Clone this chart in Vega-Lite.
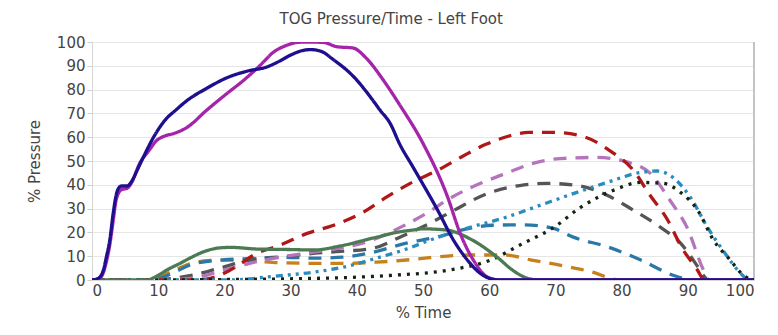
{
  "$schema": "https://vega.github.io/schema/vega-lite/v6.json",
  "autosize": "none",
  "width": 662,
  "height": 238,
  "padding": {"left": 92, "top": 42, "right": 24, "bottom": 55},
  "background": "white",
  "title": {"text": "TOG Pressure/Time - Left Foot", "fontSize": 15, "fontWeight": "normal", "font": "DejaVu Sans", "color": "#444", "anchor": "middle", "frame": "bounds", "offset": 8},
  "config": {
    "view": {"stroke": "#e2e2e2", "strokeWidth": 1},
    "axis": {"labelFont": "DejaVu Sans", "titleFont": "DejaVu Sans", "labelFontSize": 15, "titleFontSize": 15, "titleFontWeight": "normal", "labelColor": "#444", "titleColor": "#444", "gridColor": "#e6e6e6", "domainColor": "#d6d6d6", "tickColor": "#cfcfcf"}
  },
  "data": {"values": [
    {"s":"a","x":0,"y":0},{"s":"a","x":8,"y":0},{"s":"a","x":10,"y":1},{"s":"a","x":12,"y":3.5},{"s":"a","x":15,"y":7},{"s":"a","x":18,"y":8.2},{"s":"a","x":20,"y":8.4},{"s":"a","x":24,"y":8},{"s":"a","x":29,"y":7.2},{"s":"a","x":34,"y":7},{"s":"a","x":38.5,"y":7},{"s":"a","x":43,"y":7.5},{"s":"a","x":47.5,"y":8.4},{"s":"a","x":51,"y":9.4},{"s":"a","x":57.5,"y":10.5},{"s":"a","x":62.5,"y":10.5},{"s":"a","x":66.2,"y":8.5},{"s":"a","x":71.8,"y":5.6},{"s":"a","x":76.2,"y":2.8},{"s":"a","x":78.5,"y":0.5},{"s":"a","x":79.5,"y":0},{"s":"a","x":100,"y":0},
    {"s":"b","x":0,"y":0},{"s":"b","x":9,"y":0},{"s":"b","x":11,"y":1.5},{"s":"b","x":13,"y":4},{"s":"b","x":15,"y":6.5},{"s":"b","x":18,"y":8},{"s":"b","x":20,"y":8.5},{"s":"b","x":24,"y":9},{"s":"b","x":28.5,"y":9.6},{"s":"b","x":33.5,"y":9.2},{"s":"b","x":38,"y":9.6},{"s":"b","x":42.5,"y":11.7},{"s":"b","x":47.5,"y":15.5},{"s":"b","x":52,"y":18},{"s":"b","x":57,"y":21.7},{"s":"b","x":60.5,"y":23},{"s":"b","x":65.2,"y":23.2},{"s":"b","x":69.7,"y":21.7},{"s":"b","x":72.7,"y":18},{"s":"b","x":77.8,"y":14},{"s":"b","x":82.9,"y":8.4},{"s":"b","x":87.8,"y":2},{"s":"b","x":90,"y":0.3},{"s":"b","x":91,"y":0},{"s":"b","x":100,"y":0},
    {"s":"c","x":0,"y":0},{"s":"c","x":10,"y":0},{"s":"c","x":12.5,"y":0.8},{"s":"c","x":15.2,"y":2},{"s":"c","x":19.3,"y":5},{"s":"c","x":23.8,"y":8.4},{"s":"c","x":28.5,"y":9.6},{"s":"c","x":32.7,"y":11},{"s":"c","x":37.5,"y":12},{"s":"c","x":42.5,"y":13.4},{"s":"c","x":46.5,"y":18},{"s":"c","x":51,"y":23.8},{"s":"c","x":54.5,"y":29},{"s":"c","x":59.7,"y":36.3},{"s":"c","x":64.6,"y":39.7},{"s":"c","x":68.7,"y":40.6},{"s":"c","x":73.3,"y":39.7},{"s":"c","x":77.8,"y":35.6},{"s":"c","x":81.8,"y":29.3},{"s":"c","x":85.8,"y":22.3},{"s":"c","x":88.9,"y":15.5},{"s":"c","x":91.5,"y":5.6},{"s":"c","x":92.5,"y":1.5},{"s":"c","x":93,"y":0},{"s":"c","x":100,"y":0},
    {"s":"d","x":0,"y":0},{"s":"d","x":11,"y":0},{"s":"d","x":13,"y":0.3},{"s":"d","x":15.2,"y":0.8},{"s":"d","x":19.3,"y":3.6},{"s":"d","x":23.8,"y":7},{"s":"d","x":28.4,"y":9.6},{"s":"d","x":33.4,"y":11.7},{"s":"d","x":37.5,"y":13.4},{"s":"d","x":42.5,"y":17},{"s":"d","x":46.5,"y":22},{"s":"d","x":50.5,"y":28},{"s":"d","x":54.5,"y":35},{"s":"d","x":58.6,"y":40.5},{"s":"d","x":62.7,"y":45},{"s":"d","x":66.6,"y":49},{"s":"d","x":70.7,"y":51},{"s":"d","x":76.2,"y":51.5},{"s":"d","x":80.9,"y":49.5},{"s":"d","x":84.4,"y":44.7},{"s":"d","x":87.3,"y":33.5},{"s":"d","x":89.9,"y":22},{"s":"d","x":92.4,"y":4},{"s":"d","x":93.2,"y":0},{"s":"d","x":100,"y":0},
    {"s":"e","x":0,"y":0},{"s":"e","x":16,"y":0},{"s":"e","x":17.5,"y":0.5},{"s":"e","x":19.3,"y":2},{"s":"e","x":22,"y":6},{"s":"e","x":24.4,"y":10.5},{"s":"e","x":28.4,"y":14.6},{"s":"e","x":32.5,"y":19.6},{"s":"e","x":36.5,"y":23},{"s":"e","x":41,"y":28.5},{"s":"e","x":44.6,"y":35},{"s":"e","x":48,"y":40.5},{"s":"e","x":52.5,"y":46.5},{"s":"e","x":56,"y":52},{"s":"e","x":59.5,"y":57},{"s":"e","x":63,"y":60.5},{"s":"e","x":66,"y":62},{"s":"e","x":70,"y":62},{"s":"e","x":74.5,"y":60},{"s":"e","x":78.2,"y":54.4},{"s":"e","x":81.8,"y":46},{"s":"e","x":84.2,"y":36},{"s":"e","x":87,"y":25},{"s":"e","x":89,"y":14},{"s":"e","x":91.5,"y":4},{"s":"e","x":92.3,"y":0.5},{"s":"e","x":93,"y":0},{"s":"e","x":100,"y":0},
    {"s":"f","x":0,"y":0},{"s":"f","x":20,"y":0},{"s":"f","x":23,"y":0.3},{"s":"f","x":26.5,"y":1.3},{"s":"f","x":33.5,"y":3.3},{"s":"f","x":38,"y":5.4},{"s":"f","x":43.5,"y":9.6},{"s":"f","x":47.5,"y":13},{"s":"f","x":51,"y":16.7},{"s":"f","x":56.6,"y":21.7},{"s":"f","x":62.7,"y":26.5},{"s":"f","x":67.7,"y":31.4},{"s":"f","x":72.7,"y":36.3},{"s":"f","x":77.8,"y":41},{"s":"f","x":82.9,"y":45.2},{"s":"f","x":85.3,"y":45.8},{"s":"f","x":87.8,"y":43},{"s":"f","x":90.4,"y":34.7},{"s":"f","x":93,"y":22},{"s":"f","x":95.3,"y":12.5},{"s":"f","x":98,"y":2.8},{"s":"f","x":99.2,"y":0},{"s":"f","x":100,"y":0},
    {"s":"g","x":0,"y":0},{"s":"g","x":9,"y":0},{"s":"g","x":20,"y":0.2},{"s":"g","x":30,"y":0.5},{"s":"g","x":40,"y":1.2},{"s":"g","x":45.5,"y":2},{"s":"g","x":53.5,"y":4},{"s":"g","x":60.2,"y":8.4},{"s":"g","x":65.2,"y":15.5},{"s":"g","x":69.7,"y":22},{"s":"g","x":73.8,"y":30.5},{"s":"g","x":78.7,"y":37.6},{"s":"g","x":82.9,"y":41},{"s":"g","x":86.3,"y":40.6},{"s":"g","x":88.9,"y":36.8},{"s":"g","x":91.5,"y":29.3},{"s":"g","x":93.9,"y":16.7},{"s":"g","x":96.4,"y":8.4},{"s":"g","x":98.4,"y":2},{"s":"g","x":99.5,"y":0.3},{"s":"g","x":100,"y":0},
    {"s":"h","x":0,"y":0},{"s":"h","x":8.3,"y":0},{"s":"h","x":10,"y":2},{"s":"h","x":11.5,"y":4.5},{"s":"h","x":13.3,"y":7},{"s":"h","x":15,"y":9.5},{"s":"h","x":17,"y":12},{"s":"h","x":19.3,"y":13.5},{"s":"h","x":21,"y":13.7},{"s":"h","x":25,"y":13},{"s":"h","x":30,"y":12.8},{"s":"h","x":33.5,"y":12.6},{"s":"h","x":37.5,"y":14.3},{"s":"h","x":43,"y":18},{"s":"h","x":46,"y":20},{"s":"h","x":48.5,"y":21},{"s":"h","x":50,"y":21.5},{"s":"h","x":53.5,"y":21},{"s":"h","x":57.5,"y":16.7},{"s":"h","x":61.2,"y":9.6},{"s":"h","x":63.6,"y":4},{"s":"h","x":65.7,"y":0.8},{"s":"h","x":67.5,"y":0},{"s":"h","x":100,"y":0},
    {"s":"i","x":0,"y":0},{"s":"i","x":1,"y":0.5},{"s":"i","x":1.7,"y":3},{"s":"i","x":2.2,"y":8},{"s":"i","x":2.7,"y":15},{"s":"i","x":3.2,"y":25},{"s":"i","x":3.6,"y":33},{"s":"i","x":4,"y":36.5},{"s":"i","x":4.5,"y":38},{"s":"i","x":5.3,"y":38.5},{"s":"i","x":6,"y":41},{"s":"i","x":7.2,"y":49},{"s":"i","x":8.5,"y":54},{"s":"i","x":9.8,"y":58.7},{"s":"i","x":11,"y":60.5},{"s":"i","x":12.3,"y":61.5},{"s":"i","x":14.4,"y":64.2},{"s":"i","x":17.3,"y":71.3},{"s":"i","x":20.4,"y":78.4},{"s":"i","x":22.9,"y":83.9},{"s":"i","x":25.4,"y":90.2},{"s":"i","x":27.4,"y":95.7},{"s":"i","x":29.4,"y":98.6},{"s":"i","x":31,"y":99.8},{"s":"i","x":32.5,"y":100},{"s":"i","x":35,"y":99.8},{"s":"i","x":37,"y":98},{"s":"i","x":39.4,"y":97.5},{"s":"i","x":41.5,"y":93},{"s":"i","x":44,"y":84},{"s":"i","x":46.5,"y":73.5},{"s":"i","x":50,"y":57.4},{"s":"i","x":53.7,"y":35},{"s":"i","x":55.6,"y":19.7},{"s":"i","x":57.6,"y":8.4},{"s":"i","x":59.7,"y":1.3},{"s":"i","x":61.5,"y":0},{"s":"i","x":100,"y":0},
    {"s":"j","x":0,"y":0},{"s":"j","x":1,"y":0.8},{"s":"j","x":1.7,"y":4},{"s":"j","x":2.2,"y":10},{"s":"j","x":2.7,"y":17},{"s":"j","x":3.2,"y":28},{"s":"j","x":3.6,"y":35},{"s":"j","x":4,"y":38.5},{"s":"j","x":4.5,"y":39.5},{"s":"j","x":5.3,"y":39.5},{"s":"j","x":6,"y":41.5},{"s":"j","x":6.8,"y":46},{"s":"j","x":8,"y":53},{"s":"j","x":9.3,"y":60},{"s":"j","x":11.3,"y":68},{"s":"j","x":12.5,"y":71},{"s":"j","x":14.4,"y":75.5},{"s":"j","x":17.3,"y":80.5},{"s":"j","x":20.4,"y":85},{"s":"j","x":23.5,"y":87.8},{"s":"j","x":26.4,"y":89.5},{"s":"j","x":28,"y":91.5},{"s":"j","x":30,"y":94.5},{"s":"j","x":31.5,"y":96.2},{"s":"j","x":33,"y":96.8},{"s":"j","x":34.5,"y":96.2},{"s":"j","x":36.5,"y":92.5},{"s":"j","x":39.5,"y":85.5},{"s":"j","x":42.4,"y":75.6},{"s":"j","x":43.5,"y":71.4},{"s":"j","x":45,"y":66},{"s":"j","x":46.5,"y":57},{"s":"j","x":48.5,"y":47.4},{"s":"j","x":52.2,"y":29.4},{"s":"j","x":54.6,"y":16.8},{"s":"j","x":56.7,"y":8.4},{"s":"j","x":58.6,"y":2.9},{"s":"j","x":60.6,"y":0.3},{"s":"j","x":62,"y":0},{"s":"j","x":100,"y":0}
  ]},
  "layer": [
    {
      "mark": {"type": "rule", "color": "#c4c4c4", "strokeWidth": 2},
      "encoding": {"x": {"datum": 100, "type": "quantitative"}}
    },
    {
      "mark": {"type": "line", "strokeWidth": 3.3, "interpolate": "monotone", "clip": true},
      "encoding": {
        "x": {"field": "x", "type": "quantitative", "scale": {"domain": [0, 100], "nice": false}, "axis": {"title": "% Time", "values": [0,10,20,30,40,50,60,70,80,90,100], "grid": false, "ticks": false, "labelPadding": 3, "titlePadding": 7}},
        "y": {"field": "y", "type": "quantitative", "scale": {"domain": [0, 100], "nice": false}, "axis": {"title": "% Pressure", "values": [0,10,20,30,40,50,60,70,80,90,100], "tickSize": 5, "labelPadding": 2, "titlePadding": 14}},
        "color": {"field": "s", "type": "nominal", "legend": null, "scale": {"domain": ["a","b","c","d","e","f","g","h","i","j"], "range": ["#c8801a","#2a78a8","#555555","#b574bb","#b01818","#2a8cbc","#142414","#4c7a52","#a424aa","#1e0f8e"]}},
        "strokeDash": {"field": "s", "type": "nominal", "legend": null, "scale": {"domain": ["a","b","c","d","e","f","g","h","i","j"], "range": [[13,9],[13,9],[13,9],[13,9],[13,9],[3,5,3,5,7,5],[3,6],[1,0],[1,0],[1,0]]}}
      }
    }
  ]
}
